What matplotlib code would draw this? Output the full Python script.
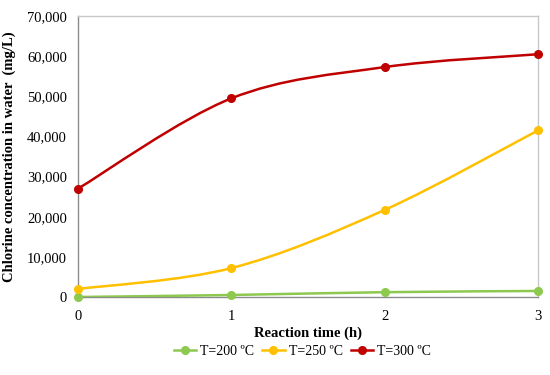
import numpy as np
import matplotlib
matplotlib.use('agg')
import matplotlib.pyplot as plt
from matplotlib.path import Path
from matplotlib.patches import PathPatch
from matplotlib.lines import Line2D
from matplotlib.ticker import FuncFormatter

hours = [0, 1, 2, 3]
t200 = [0, 500, 1200, 1500]
t250 = [2000, 7200, 21700, 41500]
t300 = [27000, 49500, 57300, 60500]

labels = ['T=200 \u00baC', 'T=250 \u00baC', 'T=300 \u00baC']
colors = ['#8DC94E', '#FFC000', '#C00000']

plt.rcParams['font.family'] = ['Liberation Serif', 'DejaVu Serif']


def smooth_path(x, y):
    # Catmull-Rom style bezier, like excel "smoothed line"
    x = np.asarray(x, float)
    y = np.asarray(y, float)
    pts = np.column_stack([x, y])
    verts = [pts[0]]
    codes = [Path.MOVETO]
    n = len(pts)
    for i in range(n - 1):
        p0 = pts[i - 1] if i > 0 else pts[i]
        p1 = pts[i]
        p2 = pts[i + 1]
        p3 = pts[i + 2] if i + 2 < n else pts[i + 1]
        c1 = p1 + (p2 - p0) / 6.0
        c2 = p2 - (p3 - p1) / 6.0
        verts += [c1, c2, p2]
        codes += [Path.CURVE4] * 3
    return Path(verts, codes)


fig = plt.figure(figsize=(5.5, 3.75), dpi=100)
ax = fig.add_axes([0.1418, 0.208, 0.978 - 0.1418, 0.957 - 0.208])

handles = []
for vals, col, lab in zip([t200, t250, t300], colors, labels):
    patch = PathPatch(smooth_path(hours, vals), facecolor='none', edgecolor=col, lw=1.8, zorder=3)
    ax.add_patch(patch)
    ax.plot(hours, vals, 'o', color=col, ms=5.5, zorder=4, clip_on=False)
    handles.append(Line2D([0], [0], color=col, lw=1.8, marker='o', ms=5.5))

ax.set_xlim(0, 3)
ax.set_ylim(0, 70000)
ax.set_xticks(hours)
ax.set_yticks(np.arange(0, 70001, 10000))
ax.yaxis.set_major_formatter(FuncFormatter(lambda v, p: f'{int(v):,}'))
ax.tick_params(length=0, labelsize=10.5, pad=8)
ax.tick_params(axis='x', pad=9)

for s in ['top', 'right']:
    ax.spines[s].set_color('#C8C8C8')
for s in ['left', 'bottom']:
    ax.spines[s].set_color('#8C8C8C')
for s in ax.spines.values():
    s.set_linewidth(1.0)

ax.set_xlabel('Reaction time (h)', fontsize=10.5, fontweight='bold', labelpad=3)
ax.set_ylabel('Chlorine concentration in water  (mg/L)', fontsize=10.5, fontweight='bold', labelpad=8)

fig.legend(handles, labels, loc='center', bbox_to_anchor=(0.55, 0.062), ncol=3, frameon=False,
           fontsize=10, handlelength=1.6, handletextpad=0.3, columnspacing=0.6)

plt.savefig('out.png', dpi=100)
